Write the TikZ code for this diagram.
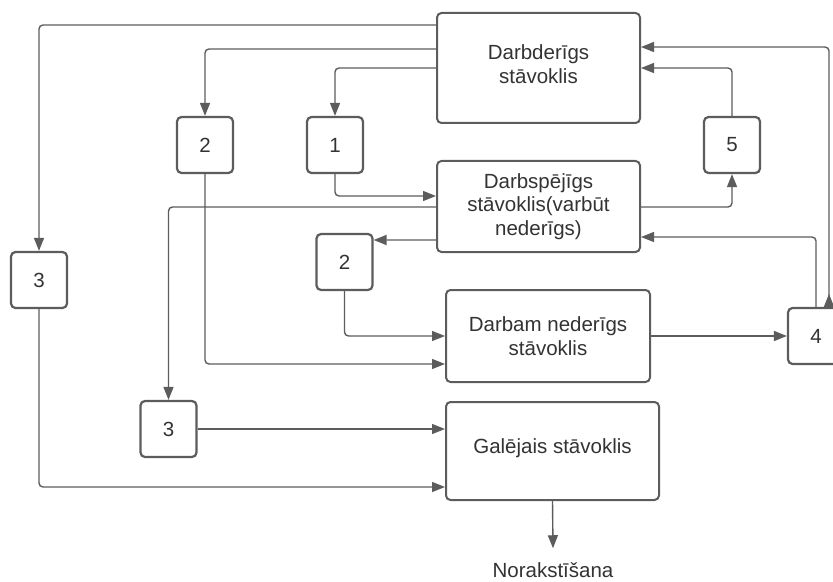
\documentclass[tikz,border=0pt]{standalone}
\usepackage{fontspec}
\setmainfont{Liberation Sans}
\usetikzlibrary{arrows.meta}
\definecolor{edge}{HTML}{5C5C5C}
\definecolor{ink}{HTML}{333333}
\begin{document}
\begin{tikzpicture}[x=1bp,y=-1bp,
  every node/.style={font=\fontsize{20.5bp}{23.5bp}\selectfont, text=ink},
  state/.style={draw=edge, line width=2bp, rounded corners=4.5bp, fill=white,
    align=center, inner sep=0pt},
  label/.style={align=center, inner sep=0pt},
  numbox/.style={draw=edge, line width=2.2bp, rounded corners=4.5bp, fill=white,
    minimum width=56bp, minimum height=56bp, inner sep=0pt},
  link/.style={draw=edge, line width=1.4bp, rounded corners=4bp,
    -{Triangle[length=13bp,width=10bp]}},
]
\useasboundingbox (0,0) rectangle (833,582);

% state boxes
\node[state, minimum width=203bp, minimum height=110bp] (A) at (538.5,68) {};
\node[label] (Atext) at (538.5,64) {Darbderīgs\\stāvoklis};
\node[state, minimum width=203bp, minimum height=91bp] (B) at (538.5,206.5)
  {Darbspējīgs\\stāvoklis(varbūt\\nederīgs)};
\node[state, minimum width=204bp, minimum height=92bp] (C) at (548,336)
  {Darbam nederīgs\\stāvoklis};
\node[state, minimum width=213bp, minimum height=98bp] (D) at (552.5,451) {};
\node[label] (Dtext) at (552.5,448) {Galējais stāvoklis};
\node[label] (N) at (553,570) {Norakstīšana};

% numbered transition boxes
\node[numbox] (t2a) at (205,145) {2};
\node[numbox] (t1)  at (335,145) {1};
\node[numbox] (t3a) at (39,280) {3};
\node[numbox] (t2b) at (344.5,262) {2};
\node[numbox] (t3b) at (168.5,429) {3};
\node[numbox] (t5)  at (732,145) {5};
\node[numbox] (t4)  at (816,336) {4};

% transitions out of the working state
\draw[link] ([yshift=43bp]A.west) -| (t3a.north);
\draw[link] ([yshift=19bp]A.west) -| (t2a.north);
\draw[link] (A.west) -| (t1.north);
\draw[link] (t1.south) |- ([yshift=10.5bp]B.west);

% transitions out of the operable state
\draw[link] ([yshift=-0.5bp]B.west) -| (t3b.north);
\draw[link] ([yshift=-33.5bp]B.west) -- ([yshift=22bp]t2b.east);
\draw[link] ([yshift=-0.5bp]B.east) -| (t5.south);
\draw[link] (t5.north) |- (A.east);

% into the inoperable state
\draw[link] (t2a.south) |- ([yshift=-28bp]C.west);
\draw[link] (t2b.south) |- (C.west);
\draw[link] (C.east) -- (t4.west);
\draw[link] (t4.north) |- ([yshift=-30.5bp]B.east);
\draw[link, {Triangle[length=13bp,width=10bp,reversed]}-{Triangle[length=13bp,width=10bp]}]
  ([xshift=13bp]t4.north) |- ([yshift=21bp]A.east);

% into the limit state and write-off
\draw[link] (t3a.south) |- ([yshift=-36bp]D.west);
\draw[link] (t3b.east) -- (t3b.east -| D.west);
\draw[link] (D.south) -- ([yshift=14bp]N.north);
\end{tikzpicture}
\end{document}
